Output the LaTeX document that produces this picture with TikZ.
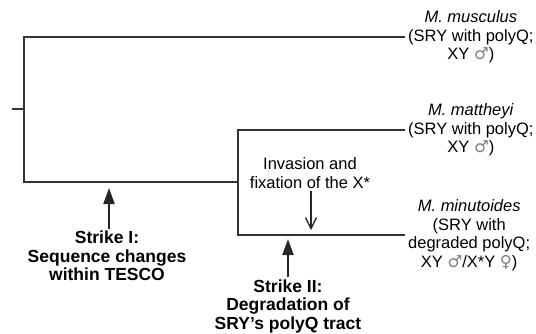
\documentclass[tikz,border=0pt]{standalone}
\usepackage{fontspec}
\setmainfont{Liberation Sans}
\newfontfamily\symfont{DejaVu Sans}
\usetikzlibrary{arrows.meta}
\newcommand{\malesym}{\textcolor{gray}{\symfont\char"2642}}
\newcommand{\femalesym}{\textcolor{gray}{\symfont\char"2640}}

\begin{document}
\begin{tikzpicture}[x=1pt,y=-1pt,
  branch/.style={draw=black!80,line width=1.5pt},
  taxon/.style={anchor=west,align=center,inner sep=3pt,font=\fontsize{16.5}{18.5}\selectfont},
  strike/.style={align=center,inner sep=0pt,outer sep=2pt,font=\fontsize{17.5}{18.5}\selectfont\bfseries},
  note/.style={align=center,inner sep=0pt,outer sep=2pt,font=\fontsize{16.5}{19}\selectfont},
  bigarrow/.style={-{Triangle[length=16pt,width=11pt]},line width=2pt,black!85},
  thinarrow/.style={-{Straight Barb[length=11pt,width=11pt]},line width=1.3pt,black!85}]
\useasboundingbox (0,0) rectangle (536,333);
%punkter
\coordinate (root) at (12,109);
\coordinate (n1) at (24,109);
\coordinate (n2) at (238,182);
%arter
\node[taxon] (mus) at (405,37) {\textit{M. musculus}\\(SRY with polyQ;\\XY \malesym)};
\node[taxon] (mat) at (405,130) {\textit{M. mattheyi}\\(SRY with polyQ;\\XY \malesym)};
\node[taxon] (min) at (405,235) {\textit{M. minutoides}\\(SRY with\\degraded polyQ;\\XY \malesym/X*Y \femalesym)};
%trae
\draw[branch] (root) -- (n1);
\draw[branch] (mus.west) -| (n1) |- (n2);
\draw[branch] (mat.west) -| (n2) |- (min.west);
%strike I
\node[strike] (s1) at (107,256) {Strike I:\\Sequence changes\\within TESCO};
\coordinate (a1) at (109,188);
\draw[bigarrow] (a1 |- s1.north) -- (a1);
%strike II
\node[strike] (s2) at (288,306) {Strike II:\\Degradation of\\SRY’s polyQ tract};
\coordinate (a2) at (288,239);
\draw[bigarrow] (s2.north) -- (a2);
%X*
\node[note] (inv) at (310,173) {Invasion and\\fixation of the X*};
\coordinate (a3) at (311,230);
\draw[thinarrow] (a3 |- inv.south) -- (a3);
\end{tikzpicture}
\end{document}
